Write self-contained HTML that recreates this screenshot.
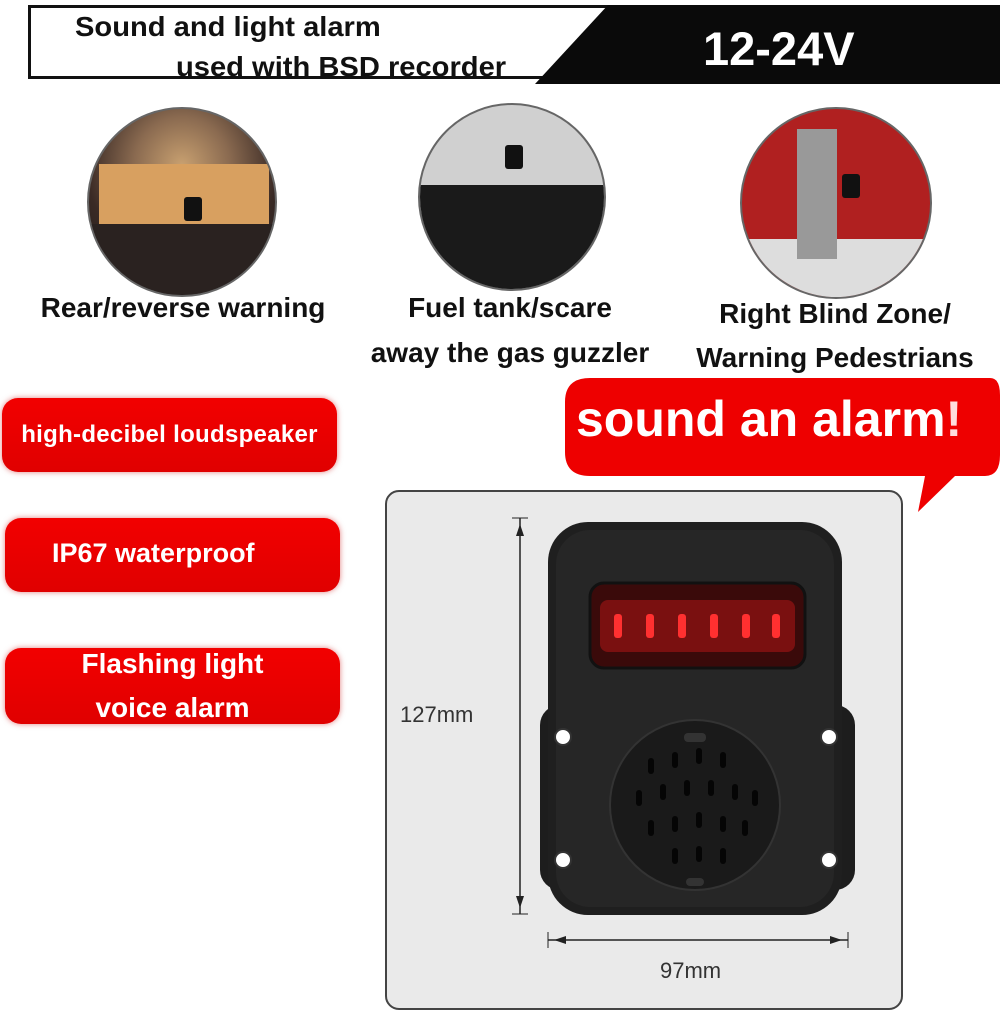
<!DOCTYPE html>
<html><head><meta charset="utf-8"><style>
body{margin:0;width:1000px;height:1000px;background:#fff;position:relative;overflow:hidden;font-family:"Liberation Sans",sans-serif;}
.a{position:absolute}
.t{font-weight:bold;color:#111;white-space:nowrap}
.pill{position:absolute;background:linear-gradient(#f20000,#e00000);border-radius:16px;color:#fff;font-weight:bold;font-size:27px;text-align:center;box-shadow:0 0 6px rgba(200,0,0,.5);white-space:nowrap}
.circ{position:absolute;border-radius:50%;overflow:hidden;border:2px solid #666}
</style></head><body>
<div class="a" style="left:28px;top:5px;width:600px;height:74px;border:3px solid #111;box-sizing:border-box"></div>
<svg class="a" style="left:0;top:0" width="1000" height="90"><polygon points="608,5 1000,5 1000,84 535,84" fill="#0a0a0a"/></svg>
<div class="a t" style="left:75px;top:11px;font-size:28px;transform:scaleX(1.04);transform-origin:left">Sound and light alarm</div>
<div class="a t" style="left:176px;top:51px;font-size:28px;transform:scaleX(1.04);transform-origin:left">used with BSD recorder</div>
<div class="a t" style="left:703px;top:21px;font-size:47px;color:#fff">12-24V</div>
<div class="circ" style="left:87px;top:107px;width:186px;height:186px;background:radial-gradient(circle at 50% 30%,#c8a070 0,#8a6a50 30%,#3a2a25 60%,#151515 100%)">
 <div class="a" style="left:10px;top:55px;width:170px;height:60px;background:#d8a060"></div>
 <div class="a" style="left:0;top:115px;width:186px;height:70px;background:#2a2220"></div>
 <div class="a" style="left:95px;top:88px;width:18px;height:24px;background:#111;border-radius:3px"></div></div>
<div class="circ" style="left:418px;top:103px;width:184px;height:184px;background:#d0d0d0">
 <div class="a" style="left:0;top:80px;width:184px;height:104px;background:#1a1a1a"></div>
 <div class="a" style="left:85px;top:40px;width:18px;height:24px;background:#111;border-radius:3px"></div></div>
<div class="circ" style="left:740px;top:107px;width:188px;height:188px;background:#b02020">
 <div class="a" style="left:0;top:130px;width:188px;height:58px;background:#ddd"></div>
 <div class="a" style="left:55px;top:20px;width:40px;height:130px;background:#999"></div>
 <div class="a" style="left:100px;top:65px;width:18px;height:24px;background:#111;border-radius:3px"></div></div>
<div class="a t" style="left:0;width:366px;text-align:center;top:292px;font-size:28px">Rear/reverse warning</div>
<div class="a t" style="left:330px;width:360px;text-align:center;top:292px;font-size:28px">Fuel tank/scare</div>
<div class="a t" style="left:330px;width:360px;text-align:center;top:337px;font-size:28px">away the gas guzzler</div>
<div class="a t" style="left:655px;width:360px;text-align:center;top:298px;font-size:28px">Right Blind Zone/</div>
<div class="a t" style="left:655px;width:360px;text-align:center;top:342px;font-size:28px">Warning Pedestrians</div>
<div class="pill" style="left:2px;top:398px;width:335px;height:74px;line-height:74px;font-size:24px;letter-spacing:0.3px">high-decibel loudspeaker</div>
<div class="pill" style="left:5px;top:518px;width:335px;height:74px;line-height:70px;text-align:left;padding-left:47px;box-sizing:border-box;font-size:27px">IP67 waterproof</div>
<div class="pill" style="left:5px;top:648px;width:335px;height:76px;font-size:28px;line-height:44px"><div style="margin-top:-6px">Flashing light</div><div style="margin-top:0px">voice alarm</div></div>
<svg class="a" style="left:0;top:0" width="1000" height="1000"><path d="M590,378 H990 Q1000,378 1000,395 V455 Q1000,476 985,476 H955 L918,512 L925,476 H590 Q565,476 565,452 V402 Q565,378 590,378 Z" fill="#ee0000"/></svg>
<div class="a t" style="left:576px;top:390px;font-size:50px;color:#fff">sound an alarm<span style="color:#fdd">!</span></div>
<div class="a" style="left:385px;top:490px;width:518px;height:520px;background:#eaeaea;border:2px solid #444;border-radius:14px;box-sizing:border-box"></div>
<svg class="a" style="left:0;top:0" width="1000" height="1000">
 <line x1="520" y1="518" x2="520" y2="914" stroke="#222" stroke-width="1.5"/>
 <line x1="512" y1="518" x2="528" y2="518" stroke="#222"/><line x1="512" y1="914" x2="528" y2="914" stroke="#222"/>
 <polygon points="520,524 516,536 524,536" fill="#222"/><polygon points="520,908 516,896 524,896" fill="#222"/>
 <line x1="548" y1="940" x2="848" y2="940" stroke="#222" stroke-width="1.5"/>
 <line x1="548" y1="932" x2="548" y2="948" stroke="#222"/><line x1="848" y1="932" x2="848" y2="948" stroke="#222"/>
 <polygon points="554,940 566,936 566,944" fill="#222"/><polygon points="842,940 830,936 830,944" fill="#222"/>
 <rect x="540" y="705" width="315" height="185" rx="20" fill="#1d1d1d"/>
 <rect x="548" y="522" width="294" height="393" rx="40" fill="#1f1f1f"/>
 <rect x="556" y="530" width="278" height="377" rx="34" fill="#262626"/>
 <rect x="590" y="583" width="215" height="85" rx="14" fill="#3a0a0a" stroke="#111" stroke-width="3"/>
 <rect x="600" y="600" width="195" height="52" rx="8" fill="#7a1010"/>
 <g fill="#ff3030"><rect x="614" y="614" width="8" height="24" rx="3"/><rect x="646" y="614" width="8" height="24" rx="3"/><rect x="678" y="614" width="8" height="24" rx="3"/><rect x="710" y="614" width="8" height="24" rx="3"/><rect x="742" y="614" width="8" height="24" rx="3"/><rect x="772" y="614" width="8" height="24" rx="3"/></g>
 <circle cx="695" cy="805" r="85" fill="#1a1a1a" stroke="#333" stroke-width="2"/>
 <rect x="684" y="733" width="22" height="9" rx="4" fill="#333"/><rect x="686" y="878" width="18" height="8" rx="4" fill="#333"/>
 <g fill="#050505">
  <rect x="648" y="758" width="6" height="16" rx="3"/><rect x="672" y="752" width="6" height="16" rx="3"/><rect x="696" y="748" width="6" height="16" rx="3"/><rect x="720" y="752" width="6" height="16" rx="3"/>
  <rect x="636" y="790" width="6" height="16" rx="3"/><rect x="660" y="784" width="6" height="16" rx="3"/><rect x="684" y="780" width="6" height="16" rx="3"/><rect x="708" y="780" width="6" height="16" rx="3"/><rect x="732" y="784" width="6" height="16" rx="3"/><rect x="752" y="790" width="6" height="16" rx="3"/>
  <rect x="648" y="820" width="6" height="16" rx="3"/><rect x="672" y="816" width="6" height="16" rx="3"/><rect x="696" y="812" width="6" height="16" rx="3"/><rect x="720" y="816" width="6" height="16" rx="3"/><rect x="742" y="820" width="6" height="16" rx="3"/>
  <rect x="672" y="848" width="6" height="16" rx="3"/><rect x="696" y="846" width="6" height="16" rx="3"/><rect x="720" y="848" width="6" height="16" rx="3"/>
 </g>
 <g fill="#fff" stroke="#333" stroke-width="2"><circle cx="563" cy="737" r="8"/><circle cx="829" cy="737" r="8"/><circle cx="563" cy="860" r="8"/><circle cx="829" cy="860" r="8"/></g>
</svg>
<div class="a" style="left:400px;top:702px;font-size:22px;color:#333">127mm</div>
<div class="a" style="left:660px;top:958px;font-size:22px;color:#333">97mm</div>
</body></html>
